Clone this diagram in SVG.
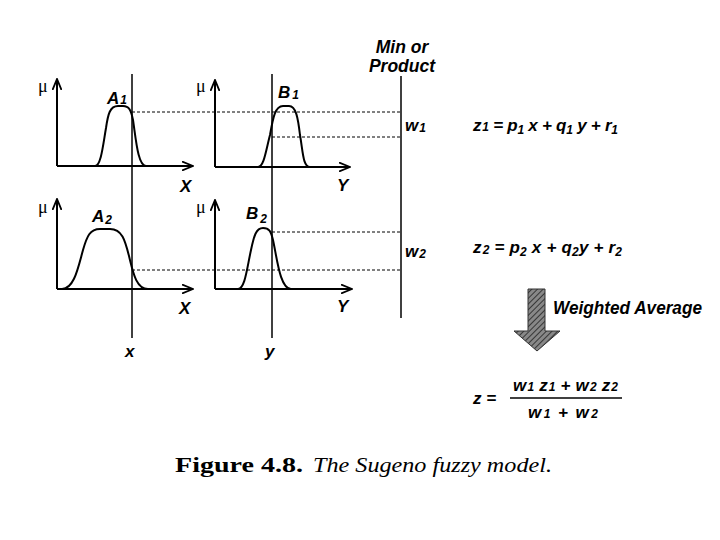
<svg xmlns="http://www.w3.org/2000/svg" width="720" height="540" viewBox="0 0 720 540">
<style>
.ax{fill:none;stroke:#000;stroke-width:2}
.mf{fill:none;stroke:#000;stroke-width:2;stroke-linejoin:round}
.vl{fill:none;stroke:#000;stroke-width:1.5}
.dash{fill:none;stroke:#000;stroke-width:1;stroke-dasharray:3,2}
.lb{font-family:"Liberation Sans",Arial,sans-serif;font-weight:bold;font-style:italic;fill:#000}
.mu{font-family:"Liberation Serif","Times New Roman",serif;font-size:18px;fill:#000}
.cap{font-family:"Liberation Serif","Times New Roman",serif;font-size:21px;fill:#000}
</style>
<defs>
<marker id="ah" viewBox="0 0 12 10" refX="11" refY="5" markerWidth="12" markerHeight="10" markerUnits="userSpaceOnUse" orient="auto">
<path d="M0,0.5 L11,5 L0,9.5" fill="none" stroke="#000" stroke-width="1.8"/>
</marker>
<pattern id="hatch" width="4" height="4" patternUnits="userSpaceOnUse" patternTransform="rotate(45)">
<rect width="4" height="4" fill="#888"/>
<line x1="0" y1="0" x2="0" y2="4" stroke="#222" stroke-width="1.6"/>
</pattern>
</defs>

<g id="connectors">
<line class="vl" x1="132" y1="74" x2="132" y2="338"/>
<line class="vl" x1="272" y1="74" x2="272" y2="338"/>
<line class="vl" x1="401" y1="76" x2="401" y2="318"/>
<line class="dash" x1="132" y1="112" x2="400" y2="112"/>
<line class="dash" x1="272" y1="137" x2="400" y2="137"/>
<line class="dash" x1="272" y1="232" x2="400" y2="232"/>
<line class="dash" x1="132" y1="270" x2="400" y2="270"/>
</g>

<g id="panel-A1">
<line class="ax" x1="57" y1="166" x2="57" y2="79" marker-end="url(#ah)"/>
<line class="ax" x1="57" y1="166" x2="193" y2="166" marker-end="url(#ah)"/>
<path class="mf" d="M57,166 H95 C101,166 103,145 106,128 C108,114 110,106 118,106 H123 C129,106 131,110 133,120 C136,140 138,166 146,166"/>
<text class="mu" x="38" y="92">μ</text>
<text class="lb" x="107" y="104" font-size="17">A<tspan font-size="12" dx="1">1</tspan></text>
<text class="lb" x="180" y="192" font-size="17">X</text>
</g>

<g id="panel-B1">
<line class="ax" x1="215" y1="167" x2="215" y2="80" marker-end="url(#ah)"/>
<line class="ax" x1="215" y1="167" x2="350" y2="167" marker-end="url(#ah)"/>
<path class="mf" d="M215,167 H258 C264,167 266,150 270,135 C273,118 275,106 283,106 H289 C296,106 298,118 300,135 C303,152 303,167 310,167"/>
<text class="mu" x="196" y="92">μ</text>
<text class="lb" x="278" y="98" font-size="17">B<tspan font-size="12" dy="1" dx="2">1</tspan></text>
<text class="lb" x="337" y="191" font-size="17">Y</text>
</g>

<g id="panel-A2">
<line class="ax" x1="57" y1="289" x2="57" y2="199" marker-end="url(#ah)"/>
<line class="ax" x1="57" y1="289" x2="193" y2="289" marker-end="url(#ah)"/>
<path class="mf" d="M57,289 H62 C74,289 78,268 83,250 C87,236 90,229 100,229 H110 C122,229 125,240 129,256 C133,272 136,289 148,289"/>
<text class="mu" x="38" y="213">μ</text>
<text class="lb" x="92" y="222" font-size="17">A<tspan font-size="12" dy="2" dx="1">2</tspan></text>
<text class="lb" x="179" y="314" font-size="17">X</text>
<text class="lb" x="125" y="357" font-size="17">x</text>
</g>

<g id="panel-B2">
<line class="ax" x1="215" y1="289" x2="215" y2="200" marker-end="url(#ah)"/>
<line class="ax" x1="215" y1="289" x2="352" y2="289" marker-end="url(#ah)"/>
<path class="mf" d="M215,289 H238 C245,289 247,268 251,250 C254,236 256,228 263,228 C269,228 271,231 273,240 C277,258 280,289 291,289"/>
<text class="mu" x="196" y="213">μ</text>
<text class="lb" x="246" y="219" font-size="17">B<tspan font-size="12" dy="4" dx="2">2</tspan></text>
<text class="lb" x="337" y="312" font-size="17">Y</text>
<text class="lb" x="265" y="357" font-size="17">y</text>
</g>

<g id="min-product">
<text class="lb" x="402" y="53" font-size="17.5" text-anchor="middle">Min or</text>
<text class="lb" x="402" y="72" font-size="17.5" text-anchor="middle">Product</text>
<text class="lb" x="405" y="131" font-size="17">w<tspan font-size="12" dy="1" dx="1">1</tspan></text>
<text class="lb" x="405" y="257" font-size="17">w<tspan font-size="12" dy="1" dx="1">2</tspan></text>
</g>

<g id="rule1">
<text class="lb" x="473" y="131" font-size="17" textLength="145" lengthAdjust="spacing">z<tspan font-size="12" dx="1">1</tspan> = p<tspan font-size="12" dy="3">1</tspan><tspan dy="-3"> x + q</tspan><tspan font-size="12" dy="3">1</tspan><tspan dy="-3"> y + r</tspan><tspan font-size="12" dy="3">1</tspan></text>
</g>

<g id="rule2">
<text class="lb" x="473" y="253" font-size="17" textLength="149" lengthAdjust="spacing">z<tspan font-size="12" dx="1" dy="1">2</tspan><tspan dy="-1"> = p</tspan><tspan font-size="12" dy="3">2</tspan><tspan dy="-3"> x + q</tspan><tspan font-size="12" dy="3">2</tspan><tspan dy="-3">y + r</tspan><tspan font-size="12" dy="3">2</tspan></text>
</g>

<g id="weighted-average">
<path d="M528,289 H545 V331 H560 L537,351 L514,331 H528 Z" fill="url(#hatch)" stroke="#333" stroke-width="1"/>
<text class="lb" x="553" y="314" font-size="17.5" textLength="149" lengthAdjust="spacingAndGlyphs">Weighted Average</text>
</g>

<g id="output">
<text class="lb" x="473" y="404" font-size="17">z =</text>
<text class="lb" x="513" y="391" font-size="17" textLength="105" lengthAdjust="spacing">w<tspan font-size="12" dx="1">1</tspan><tspan> z</tspan><tspan font-size="12" dx="1">1</tspan><tspan> + w</tspan><tspan font-size="12" dx="1">2</tspan><tspan> z</tspan><tspan font-size="12" dx="1">2</tspan></text>
<line x1="510" y1="398" x2="622" y2="398" stroke="#000" stroke-width="1.5"/>
<text class="lb" x="528" y="418" font-size="17" textLength="70" lengthAdjust="spacing">w<tspan font-size="12" dx="1">1</tspan><tspan>  +  w</tspan><tspan font-size="12" dx="1">2</tspan></text>
</g>

<g id="caption">
<text class="cap" x="175" y="472" font-weight="bold" textLength="128" lengthAdjust="spacingAndGlyphs">Figure 4.8.</text>
<text class="cap" x="313" y="472" font-style="italic" textLength="239" lengthAdjust="spacingAndGlyphs">The Sugeno fuzzy model.</text>
</g>
</svg>
